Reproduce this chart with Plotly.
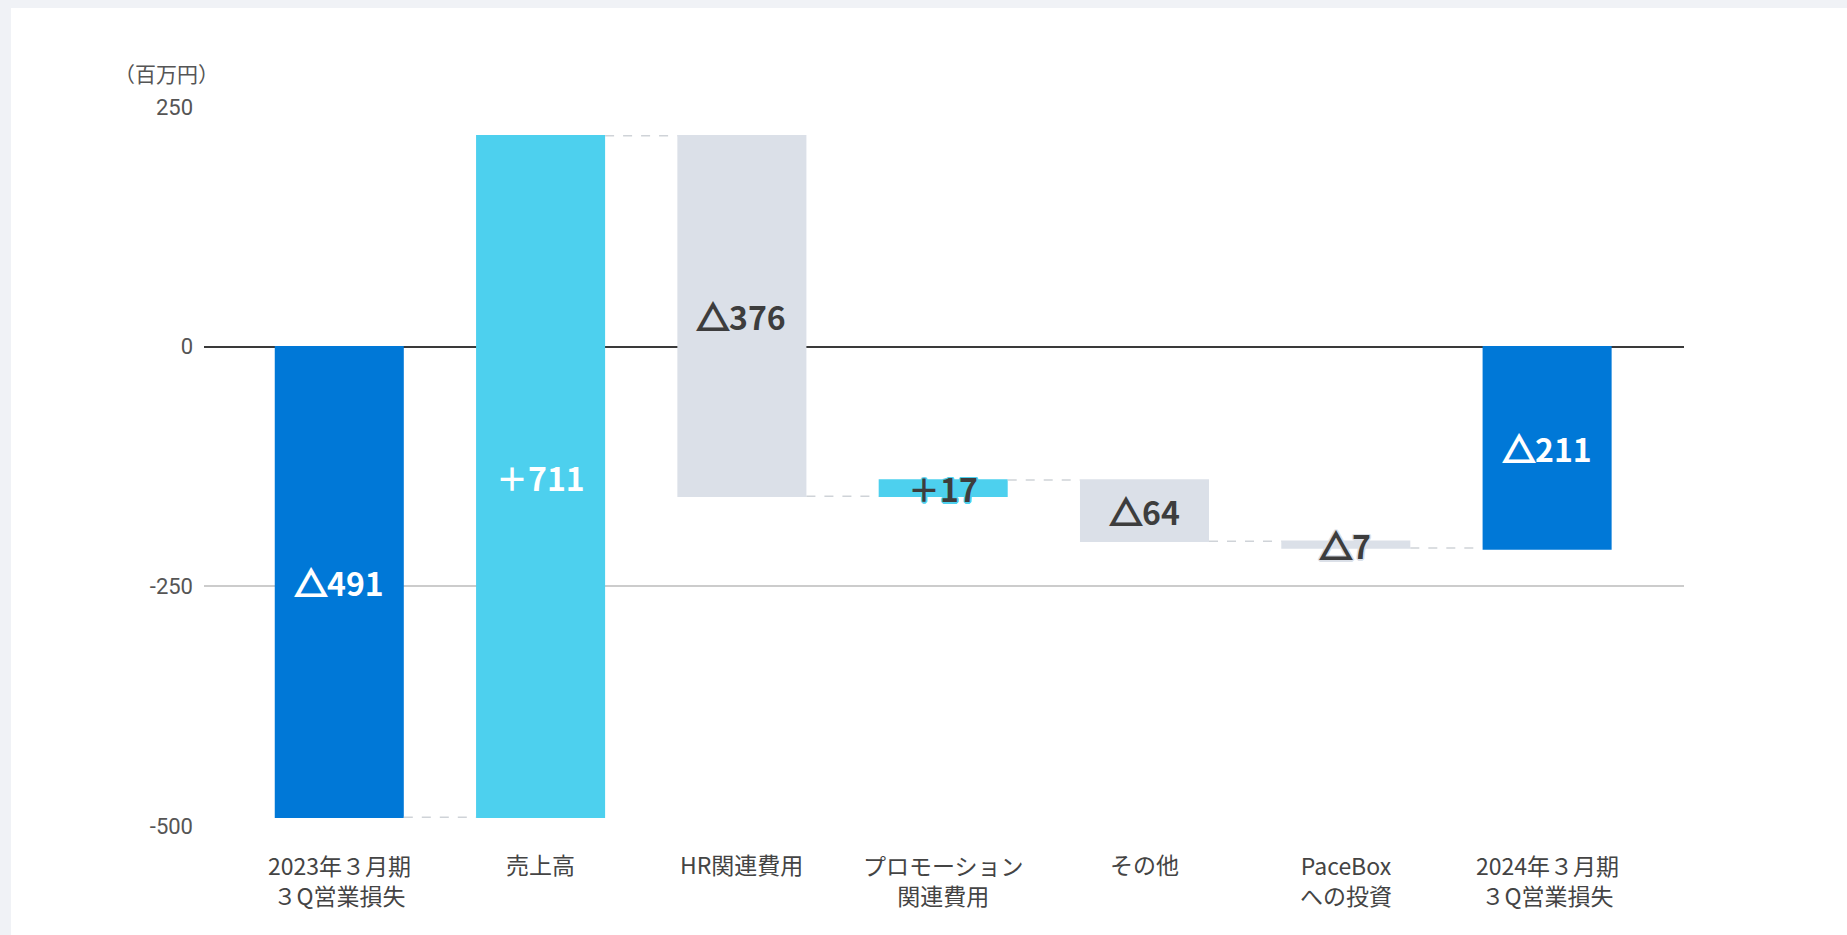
import plotly.graph_objects as go

# Operating loss bridge, FY3/2023 Q3 -> FY3/2024 Q3 (million yen)
categories = [
    "2023年３月期<br>３Q営業損失",
    "売上高",
    "HR関連費用",
    "プロモーション<br>関連費用",
    "その他",
    "PaceBox<br>への投資",
    "2024年３月期<br>３Q営業損失",
]
values = [-491, 711, -376, 17, -64, -7, -211]
measures = ["absolute", "relative", "relative", "relative", "relative", "relative", "absolute"]
value_labels = ["△491", "＋711", "△376", "＋17", "△64", "△7", "△211"]
y_ticks = [250, 0, -250, -500]

BLUE = "#0078d7"
CYAN = "#4dd0ee"
GRAY = "#dbe0e8"
DARK = "#3d3d3d"

# bar extents computed from the running total
bases, tops = [], []
running = 0
for v, m in zip(values, measures):
    if m == "absolute":
        lo, hi = 0, v
        running = v
    else:
        lo, hi = running, running + v
        running += v
    bases.append(lo)
    tops.append(hi)
mids = [(a + b) / 2 for a, b in zip(bases, tops)]

fig = go.Figure()
fig.add_trace(go.Waterfall(
    x=categories,
    y=values,
    measure=measures,
    width=0.641,
    textposition="none",
    increasing=dict(marker=dict(color=CYAN)),
    decreasing=dict(marker=dict(color=GRAY)),
    totals=dict(marker=dict(color=BLUE)),
    connector=dict(mode="between", line=dict(color="#cfd3d8", width=1.5, dash="dash")),
    hoverinfo="skip",
))

# value labels at the middle of each bar
label_styles = []
for i, m in enumerate(measures):
    span = abs(tops[i] - bases[i])
    if m == "absolute" or (values[i] > 0 and span > 40):
        label_styles.append(("#ffffff", None))
    elif values[i] > 0:
        label_styles.append((DARK, CYAN))
    elif span < 40:
        label_styles.append((DARK, GRAY))
    else:
        label_styles.append((DARK, None))


def styled(txt, color):
    # stroke the triangle so it reads as heavy as the digits
    return txt.replace(
        "△", f"<span style=\"stroke:{color};stroke-width:2.2px\">△</span>")


for cat, mid, txt, (col, halo) in zip(categories, mids, value_labels, label_styles):
    font = dict(family="Noto Sans CJK JP", size=32, color=col, weight="bold")
    if halo:
        font["shadow"] = (f"1.5px 0 0 {halo}, -1.5px 0 0 {halo}, 0 1.5px 0 {halo}, "
                          f"0 -1.5px 0 {halo}, 1px 1px 0 {halo}, -1px -1px 0 {halo}, "
                          f"1px -1px 0 {halo}, -1px 1px 0 {halo}")
    fig.add_annotation(x=cat, y=mid, xref="x", yref="y", text=styled(txt, col),
                       showarrow=False, font=font, xanchor="center", yanchor="middle")

# category labels below the plot
for cat in categories:
    two_lines = "<br>" in cat
    fig.add_annotation(x=cat, xref="x", yref="paper",
                       y=-0.0752 if two_lines else -0.0530, text=cat,
                       showarrow=False, xanchor="center", yanchor="middle", align="center",
                       font=dict(family="Noto Sans CJK JP", size=23, color="#444444"))

# unit label
fig.add_annotation(xref="paper", yref="paper", x=-0.0625, y=1.047, text="（百万円）",
                   showarrow=False, xanchor="left", yanchor="middle",
                   font=dict(family="Noto Sans CJK JP", size=21, color="#555555"))

# page frame strips
fig.add_shape(type="rect", xref="paper", yref="paper", x0=-0.15, x1=1.2, y0=1.1377, y1=1.16,
              fillcolor="#f0f2f6", line=dict(width=0), layer="below")
fig.add_shape(type="rect", xref="paper", yref="paper", x0=-0.15, x1=-0.1304, y0=-0.16, y1=1.16,
              fillcolor="#f0f2f6", line=dict(width=0), layer="below")

fig.update_layout(
    width=1847, height=935,
    margin=dict(l=204, r=163, t=107, b=109),
    paper_bgcolor="white",
    plot_bgcolor="white",
    showlegend=False,
    xaxis=dict(
        type="category",
        range=[-0.672, 6.680],
        showgrid=False, showline=False, zeroline=False, ticks="",
        showticklabels=False,
        fixedrange=True,
    ),
    yaxis=dict(
        range=[-500, 250],
        tickvals=y_ticks,
        ticktext=[str(v) for v in y_ticks],
        showgrid=True, gridcolor="#cccccc", gridwidth=1.5,
        zeroline=True, zerolinecolor="#3a3a3a", zerolinewidth=1.5,
        showline=False, ticks="",
        tickfont=dict(family="Roboto", size=22, color="#555555"),
        ticklabelstandoff=10,
        fixedrange=True,
    ),
)

fig.write_html("out.html", config={"displayModeBar": False})
